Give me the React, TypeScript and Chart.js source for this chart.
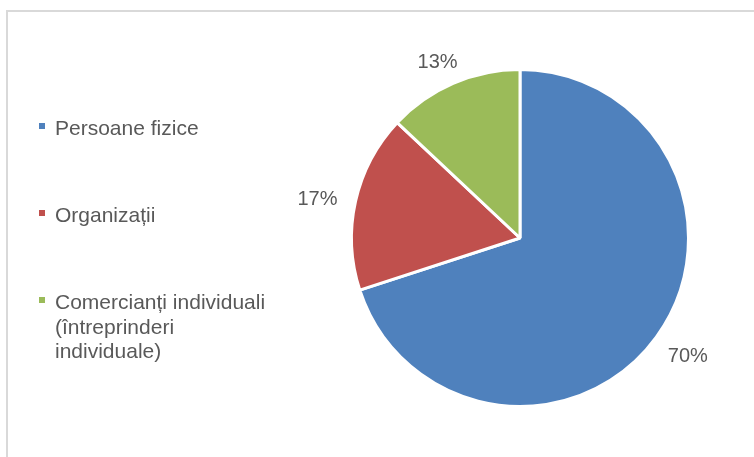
import React, { useEffect, useRef } from "react";
import { Chart, registerables } from "chart.js";

Chart.register(...registerables);

const categories: string[] = [
  "Persoane fizice",
  "Organizații",
  "Comercianți individuali (întreprinderi individuale)",
];
const shares: number[] = [70, 17, 13];
const sliceColors: string[] = ["#4F81BD", "#C0504D", "#9BBB59"];

const TEXT_COLOR = "#595959";
const LEGEND_FONT = "21px 'Liberation Sans', Arial, sans-serif";
const LABEL_FONT = "20px 'Liberation Sans', Arial, sans-serif";

function wrapText(ctx: CanvasRenderingContext2D, text: string, maxWidth: number): string[] {
  const words = text.split(" ");
  const lines: string[] = [];
  let cur = "";
  for (const w of words) {
    const test = cur ? cur + " " + w : w;
    if (ctx.measureText(test).width > maxWidth && cur) {
      lines.push(cur);
      cur = w;
    } else {
      cur = test;
    }
  }
  if (cur) lines.push(cur);
  return lines;
}

const framePlugin = {
  id: "frame",
  beforeDraw(chart: any) {
    const ctx = chart.ctx as CanvasRenderingContext2D;
    ctx.save();
    ctx.fillStyle = "#ffffff";
    ctx.fillRect(0, 0, chart.width, chart.height);
    ctx.strokeStyle = "#D9D9D9";
    ctx.lineWidth = 2;
    ctx.strokeRect(7, 11, chart.width + 50, chart.height + 50);
    ctx.restore();
  },
};

const legendPlugin = {
  id: "sideLegend",
  afterDraw(chart: any) {
    const ctx = chart.ctx as CanvasRenderingContext2D;
    const labels: string[] = chart.data.labels;
    const colors: string[] = chart.data.datasets[0].backgroundColor;
    ctx.save();
    ctx.font = LEGEND_FONT;
    ctx.textAlign = "left";
    ctx.textBaseline = "alphabetic";
    const firstBaseline = 135;
    const step = 87;
    const lineH = 24.5;
    labels.forEach((lab, i) => {
      const base = firstBaseline + i * step;
      ctx.fillStyle = colors[i];
      ctx.fillRect(39, base - 12, 6, 6);
      ctx.fillStyle = TEXT_COLOR;
      const lines = wrapText(ctx, lab, 220);
      lines.forEach((ln, j) => ctx.fillText(ln, 55, base + j * lineH));
    });
    ctx.restore();
  },
};

const pctLabelPlugin = {
  id: "pctLabels",
  afterDatasetsDraw(chart: any) {
    const ctx = chart.ctx as CanvasRenderingContext2D;
    const meta = chart.getDatasetMeta(0);
    const data: number[] = chart.data.datasets[0].data;
    const total = data.reduce((a, b) => a + b, 0);
    ctx.save();
    ctx.font = LABEL_FONT;
    ctx.fillStyle = TEXT_COLOR;
    ctx.textAlign = "center";
    ctx.textBaseline = "middle";
    meta.data.forEach((arc: any, i: number) => {
      const p = arc.getProps(["x", "y", "startAngle", "endAngle", "outerRadius"], true);
      const mid = (p.startAngle + p.endAngle) / 2;
      const dx = Math.cos(mid);
      const dy = Math.sin(mid);
      const txt = Math.round((data[i] / total) * 100) + "%";
      const w = ctx.measureText(txt).width;
      const h = 16;
      const r = p.outerRadius + 19;
      const cx = p.x + dx * r + dx * (w / 2);
      const cy = p.y + dy * r + dy * (h / 2);
      ctx.fillText(txt, cx, cy + 4);
    });
    ctx.restore();
  },
};

export default function App() {
  const ref = useRef<HTMLCanvasElement | null>(null);
  useEffect(() => {
    if (!ref.current) return;
    const chart = new Chart(ref.current, {
      type: "pie",
      data: {
        labels: categories,
        datasets: [
          {
            data: shares,
            backgroundColor: sliceColors,
            borderColor: "#ffffff",
            borderWidth: 3,
            hoverOffset: 0,
            hoverBorderWidth: 3,
          },
        ],
      },
      options: {
        responsive: false,
        animation: false,
        devicePixelRatio: 1,
        layout: { padding: { left: 350, right: 64, top: 68, bottom: 49 } },
        plugins: {
          legend: { display: false },
          tooltip: { enabled: false },
        },
      },
      plugins: [framePlugin, legendPlugin, pctLabelPlugin],
    });
    return () => chart.destroy();
  }, []);
  return (
    <div style={{ position: "absolute", left: 0, top: 0, width: 754, height: 457 }}>
      <canvas ref={ref} width={754} height={457} />
    </div>
  );
}
